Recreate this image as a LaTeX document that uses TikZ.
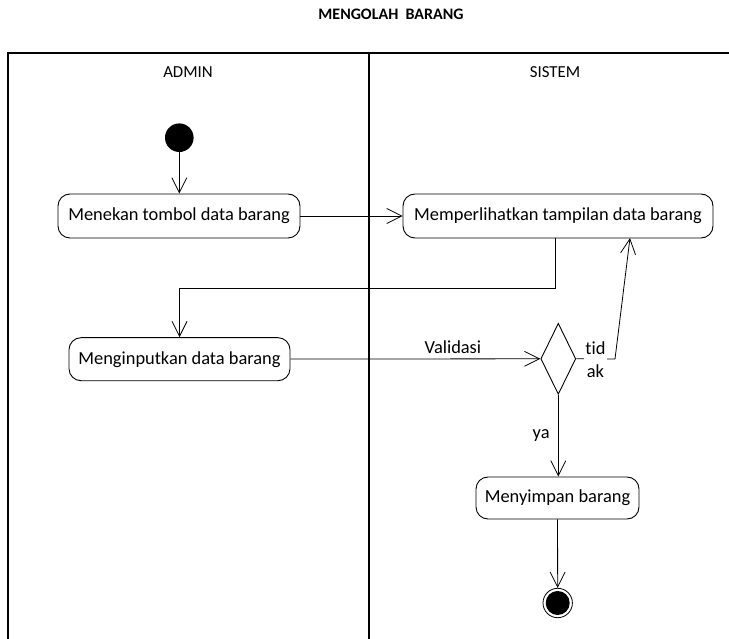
\documentclass[tikz,border=0pt]{standalone}
\usepackage{fontspec}
\setmainfont{Carlito}[Ligatures=NoCommon]
\usetikzlibrary{arrows.meta,shapes.geometric,calc}
\begin{document}
\begin{tikzpicture}[x=1pt,y=-1pt,
  txt/.style={font=\fontsize{18.4}{22}\selectfont},
  head/.style={font=\fontsize{16.8}{20}\selectfont},
  action/.style={txt,draw,rounded corners=12pt,line width=0.9pt,inner sep=0pt},
  flow/.style={line width=0.8pt,-{Straight Barb[length=15pt,width=15pt,line width=0.8pt]}},
  lane/.style={line width=1.3pt},
  decision/.style={draw,diamond,line width=0.9pt,inner sep=0pt,minimum width=35pt,minimum height=71pt}
]
\useasboundingbox (0,0) rectangle (729,639);

% swimlane frame
\draw[lane] (8,639) -- (8,53) -- (729,53);
\draw[lane] (369,53) -- (369,639);
\node[font=\fontsize{16}{18}\selectfont\bfseries] (title) at (391,14) {MENGOLAH\ \ BARANG};
\node[head] (admin) at (188,72) {ADMIN};
\node[head] (sistem) at (555,72) {SISTEM};

% nodes
\node[circle,fill=black,minimum size=28.6pt,inner sep=0pt] (start) at (179.3,137.7) {};
\node[action,minimum width=242pt,minimum height=44pt] (b1) at (179,216) {Menekan tombol data barang};
\node[action,minimum width=310pt,minimum height=44pt] (b2) at (558,216) {Memperlihatkan tampilan data barang};
\node[action,minimum width=221pt,minimum height=43pt] (b3) at (179.5,359.2) {Menginputkan data barang};
\node[decision] (dec) at (558.3,358.8) {};
\node[action,minimum width=163pt,minimum height=42pt] (b4) at (557.5,498) {Menyimpan barang};
\node[circle,draw,line width=0.8pt,minimum size=29.4pt,inner sep=0pt] (endo) at (557.7,603) {};
\node[circle,fill=black,minimum size=24pt,inner sep=0pt] (endi) at (557.7,603) {};

% routing points
\coordinate (drop) at (555,238);
\coordinate (elbow) at (555,288);
\coordinate (bend) at (615,359);
\coordinate (back) at (630,238);

% connectors
\draw[flow] (start) -- (b1.north -| start);
\draw[flow] (b1) -- (b2);
\draw[flow] (drop) -- (elbow) -- (elbow -| b3.north) -- (b3.north);
\draw[flow] (b3) -- node[txt,pos=0.65,above=2pt] (val) {Validasi} (dec.west);
\draw[flow] (dec.east) -- (bend) -- (back);
\node[fill=white,inner sep=1pt,align=center,font=\fontsize{18.4}{23}\selectfont] (tidak) at (595.5,360) {tid\\ak};
\draw[flow] (dec.south) -- node[txt,left=5pt] (ya) {ya} (b4.north -| dec.south);
\draw[flow] (b4) -- (endo);
\end{tikzpicture}
\end{document}
